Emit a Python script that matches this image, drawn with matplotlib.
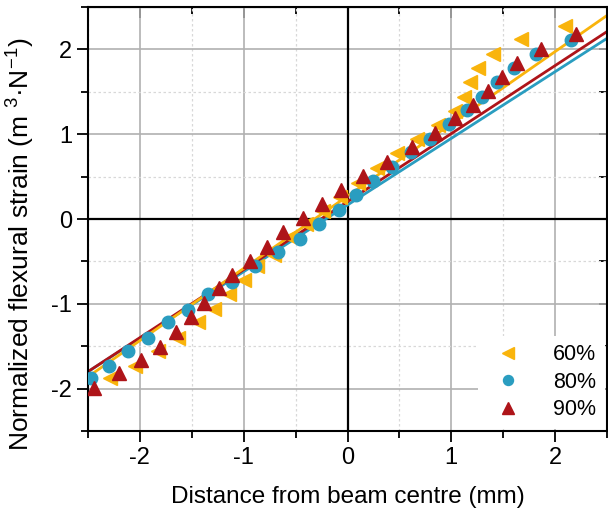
import matplotlib
matplotlib.use('Agg')
from matplotlib import pyplot as plt
from matplotlib.ticker import MultipleLocator

plt.rcParams['font.family'] = ['Liberation Sans', 'DejaVu Sans']
plt.rcParams['mathtext.default'] = 'regular'
plt.rcParams['axes.unicode_minus'] = False

# 60 %
x60 = [-2.29, -2.05, -1.83, -1.63, -1.44, -1.29, -1.14, -1.00, -0.87, -0.71, -0.55, -0.40, -0.24,
       -0.07, 0.10, 0.28, 0.48, 0.67, 0.87, 1.04, 1.12, 1.18, 1.26, 1.40, 1.67, 2.10]
y60 = [-1.88, -1.73, -1.56, -1.40, -1.22, -1.06, -0.89, -0.72, -0.56, -0.42, -0.21, -0.06, 0.09,
       0.26, 0.42, 0.60, 0.78, 0.94, 1.11, 1.27, 1.44, 1.61, 1.78, 1.95, 2.12, 2.28]
# 80 %
x80 = [-2.47, -2.30, -2.11, -1.92, -1.73, -1.54, -1.34, -1.11, -0.89, -0.67, -0.46, -0.27, -0.08,
       0.08, 0.25, 0.43, 0.61, 0.79, 0.98, 1.15, 1.30, 1.44, 1.60, 1.82, 2.15]
y80 = [-1.88, -1.73, -1.56, -1.40, -1.22, -1.07, -0.89, -0.74, -0.56, -0.39, -0.24, -0.06, 0.11,
       0.28, 0.45, 0.61, 0.79, 0.94, 1.12, 1.28, 1.44, 1.61, 1.78, 1.94, 2.11]
# 90 %
x90 = [-2.44, -2.20, -1.99, -1.81, -1.65, -1.51, -1.38, -1.24, -1.11, -0.94, -0.78, -0.62, -0.43,
       -0.25, -0.06, 0.15, 0.38, 0.62, 0.84, 1.04, 1.21, 1.35, 1.49, 1.63, 1.86, 2.20]
y90 = [-1.99, -1.82, -1.66, -1.51, -1.33, -1.16, -0.99, -0.81, -0.66, -0.49, -0.33, -0.15, 0.01,
       0.18, 0.34, 0.51, 0.67, 0.85, 1.01, 1.19, 1.34, 1.51, 1.67, 1.84, 2.01, 2.18]

# linear fits (end points)
x_fit = [-2.5, 2.5]
fit60 = [-1.86, 2.40]
fit80 = [-1.80, 2.13]
fit90 = [-1.80, 2.21]

c60 = '#F9B40C'
c80 = '#2A9DC0'
c90 = '#AE1419'

fig = plt.figure(figsize=(6.08, 5.12), dpi=100)
ax = fig.add_axes([88 / 608, 1 - 431 / 512, 519 / 608, 424 / 512])

ax.set_xlim(-2.5, 2.5)
ax.set_ylim(-2.5, 2.5)
ax.xaxis.set_major_locator(MultipleLocator(1))
ax.xaxis.set_minor_locator(MultipleLocator(0.5))
ax.yaxis.set_major_locator(MultipleLocator(1))
ax.yaxis.set_minor_locator(MultipleLocator(0.5))

ax.grid(which='major', color='#b0b0b0', linewidth=1.2)
ax.grid(which='minor', color='#d8d8d8', linewidth=0.9, linestyle=(0, (2, 2)))
ax.axhline(0, color='black', linewidth=1.6, zorder=1.9)
ax.axvline(0, color='black', linewidth=1.6, zorder=1.9)

ax.plot(x_fit, fit80, color=c80, linewidth=2, zorder=2)
ax.plot(x_fit, fit90, color=c90, linewidth=2, zorder=2)
ax.plot(x_fit, fit60, color=c60, linewidth=2, zorder=2)

ax.plot(x60, y60, '<', color=c60, markersize=10, linestyle='none', label='60%', zorder=3)
ax.plot(x80, y80, 'o', color=c80, markersize=9, linestyle='none', label='80%', zorder=3)
ax.plot(x90, y90, '^', color=c90, markersize=10, linestyle='none', label='90%', zorder=3)

for s in ax.spines.values():
    s.set_linewidth(1.5)
    s.set_color('black')

ax.tick_params(which='both', direction='out', labelsize=17, width=1.3,
               top=False, right=False)
ax.tick_params(which='major', length=8)
ax.tick_params(which='minor', length=5)

top = ax.secondary_xaxis('top')
top.xaxis.set_major_locator(MultipleLocator(1))
top.xaxis.set_minor_locator(MultipleLocator(0.5))
top.tick_params(which='both', direction='in', labeltop=False, width=1.3)
top.tick_params(which='major', length=8)
top.tick_params(which='minor', length=5)
right = ax.secondary_yaxis('right')
right.yaxis.set_major_locator(MultipleLocator(1))
right.yaxis.set_minor_locator(MultipleLocator(0.5))
right.tick_params(which='both', direction='in', labelright=False, width=1.3, length=6)

ax.set_xlabel('Distance from beam centre (mm)', fontsize=17.5, labelpad=12)
ax.set_ylabel('Normalized flexural strain (m $^{3}$·N$^{-1}$)', fontsize=19)
ax.yaxis.set_label_coords(-0.098, 0.44)

leg = ax.legend(loc='lower right', fontsize=15.5, frameon=True, framealpha=1,
                edgecolor='none', facecolor='white', handletextpad=1.1,
                borderaxespad=0.1, labelspacing=0.3, markerscale=0.8)
leg.set_zorder(5)

fig.savefig('out.png', dpi=100)
